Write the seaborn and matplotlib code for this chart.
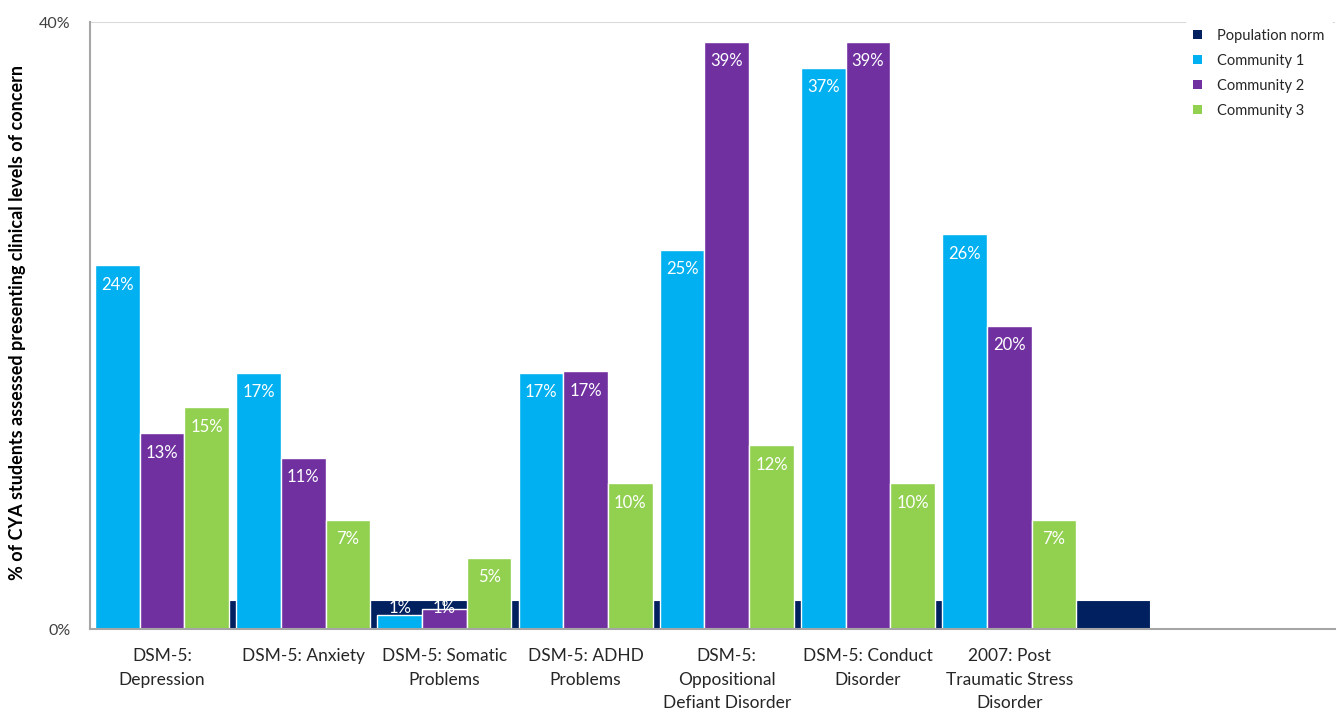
import matplotlib
matplotlib.use("Agg")
import matplotlib.pyplot as plt
from matplotlib.patches import Patch
import numpy as np
import pandas as pd
import seaborn as sns

# --- data -------------------------------------------------------------
categories = [
    "DSM-5:\nDepression",
    "DSM-5: Anxiety",
    "DSM-5: Somatic\nProblems",
    "DSM-5: ADHD\nProblems",
    "DSM-5:\nOppositional\nDefiant Disorder",
    "DSM-5: Conduct\nDisorder",
    "2007: Post\nTraumatic Stress\nDisorder",
]
community_1 = [24.0, 16.9, 0.9, 16.9, 25.0, 37.0, 26.0]
community_2 = [12.9, 11.3, 1.3, 17.0, 38.7, 38.7, 20.0]
community_3 = [14.6, 7.2, 4.7, 9.6, 12.1, 9.6, 7.2]
population_norm = [1.9, 1.9, 1.9, 1.9, 1.9, 1.9, 1.9]

series_names = ["Population norm", "Community 1", "Community 2", "Community 3"]
colors = {"Population norm": "#002060", "Community 1": "#00B0F0",
          "Community 2": "#7030A0", "Community 3": "#92D050"}
y_ticks = [0, 40]

# --- long-form table for seaborn --------------------------------------
df = pd.DataFrame({
    "category": categories * 3,
    "series": (["Community 1"] * len(categories) + ["Community 2"] * len(categories)
               + ["Community 3"] * len(categories)),
    "value": community_1 + community_2 + community_3,
})

sns.set_theme(style="white")
plt.rcParams["font.family"] = ["Lato", "DejaVu Sans"]

fig = plt.figure(figsize=(13.38, 7.13), dpi=100)
ax = fig.add_axes([0.0673, 0.1178, 0.9307, 0.8513])

sns.barplot(data=df, x="category", y="value", hue="series", order=categories,
            hue_order=series_names[1:], palette=colors, width=0.95,
            edgecolor="white", linewidth=1.0, saturation=1, errorbar=None,
            legend=False, ax=ax)

# Population norm series sits half a category to the right, beneath the groups
x_pos = np.arange(len(categories))
ax.bar(x_pos + 0.5, population_norm, width=1.0, color=colors["Population norm"],
       edgecolor="white", linewidth=0.8, zorder=0.9)

# Value labels inside the top of each community bar
bar_w = 0.95 / 3
for k, vals in enumerate([community_1, community_2, community_3]):
    for i, v in enumerate(vals):
        xc = i - 0.95 / 2 + bar_w * (k + 0.5)
        yl = max(v - 1.3, 1.38)
        ax.text(xc, yl, f"{v:.0f}%", ha="center", va="center", color="white",
                fontsize=12)

# axes styling
ax.set_xlim(-0.51, 8.31)
ax.set_ylim(0, 40)
ax.set_yticks(y_ticks)
ax.set_yticklabels([f"{t}%" for t in y_ticks], fontsize=11.5, color="#404040")
ax.axhline(40, color="#d9d9d9", linewidth=1.5, zorder=0)
ax.set_xticks(x_pos)
ax.set_xticklabels(categories, fontsize=12.5, color="#262626", linespacing=1.55)
ax.tick_params(axis="both", length=0)
ax.tick_params(axis="y", pad=14)
ax.tick_params(axis="x", pad=14)
ax.set_xlabel("")
ax.set_ylabel("")
fig.text(18 / 1338, 1 - 322 / 713,
         "% of CYA students assessed presenting clinical levels of concern",
         rotation=90, ha="center", va="center", fontsize=13,
         fontweight="bold", color="black")

for side in ["top", "right"]:
    ax.spines[side].set_visible(False)
for side in ["left", "bottom"]:
    ax.spines[side].set_color("#a6a6a6")
    ax.spines[side].set_linewidth(1.5)

handles = [Patch(facecolor=colors[s], edgecolor="none") for s in series_names]
leg = ax.legend(handles, series_names, loc="upper left",
                bbox_to_anchor=(0.874, 1.013), frameon=True, facecolor="white",
                edgecolor="white", framealpha=1, fontsize=10.5,
                handlelength=0.65, handleheight=0.65, handletextpad=1.0,
                labelspacing=0.75, borderpad=0.5)
for t in leg.get_texts():
    t.set_color("#262626")

fig.savefig("out.png", dpi=100)
